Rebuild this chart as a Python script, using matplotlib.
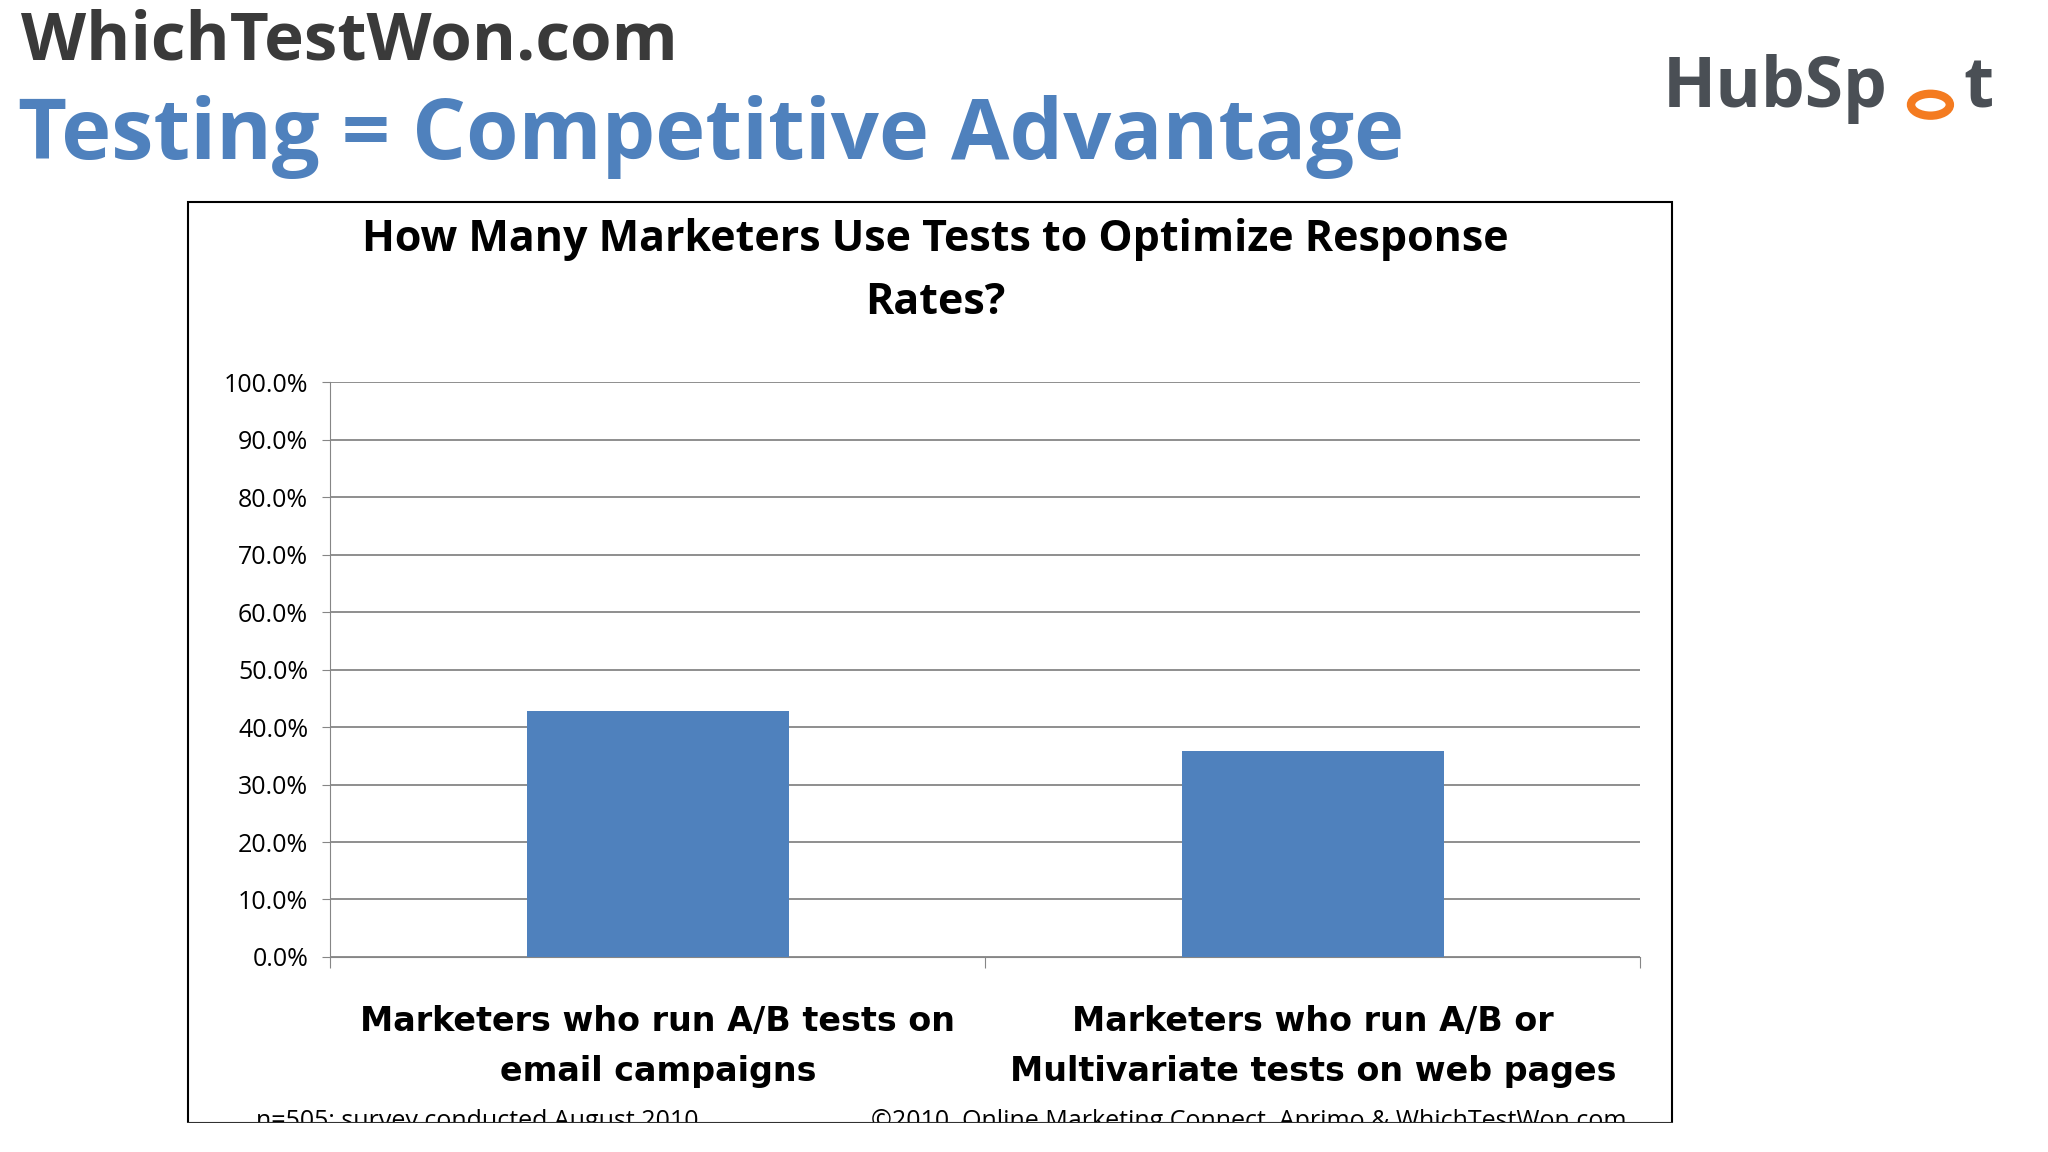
import matplotlib.pyplot as plt
from matplotlib.patches import Rectangle, Circle
from matplotlib.ticker import PercentFormatter

categories = ["Marketers who run A/B tests on\nemail campaigns",
              "Marketers who run A/B or\nMultivariate tests on web pages"]
values = [42.8, 35.8]
yticks = [0, 10, 20, 30, 40, 50, 60, 70, 80, 90, 100]

W, H = 1568, 880
fig = plt.figure(figsize=(20.48, 11.52), dpi=100)
fig.patch.set_facecolor("white")

def fx(x):
    return x / W

def fy(y):
    return 1 - y / H

# slide heading
fig.text(fx(16), fy(32), "WhichTestWon.com", fontsize=48.5, fontweight="bold",
         color="#3a3a3a", family="Open Sans", va="center")
fig.text(fx(14), fy(105), "Testing = Competitive Advantage", fontsize=61,
         fontweight="bold", color="#4f81bd", family="Open Sans", va="center")

# HubSpot logo approximation
fig.text(fx(1273), fy(68), "HubSp", fontsize=50, fontweight="bold",
         color="#4a4f55", family="Open Sans", va="center")
fig.text(fx(1503), fy(68), "t", fontsize=50, fontweight="bold",
         color="#4a4f55", family="Open Sans", va="center")
fig.patches.append(Circle((fx(1478), fy(80)), 0.0095, transform=fig.transFigure,
                          fill=False, lw=6, ec="#f47b20"))

# chart frame
fig.patches.append(Rectangle((fx(144), fy(858)), fx(1280) - fx(144), fy(154) - fy(858),
                             transform=fig.transFigure, fill=False, ec="black", lw=1.5))

fig.text(fx(716), fy(183), "How Many Marketers Use Tests to Optimize Response",
         fontsize=31, fontweight="bold", family="Open Sans", ha="center", va="center")
fig.text(fx(716), fy(231), "Rates?", fontsize=31, fontweight="bold",
         family="Open Sans", ha="center", va="center")

ax = fig.add_axes([fx(253), fy(731), fx(1256) - fx(253), fy(292) - fy(731)])
x = list(range(len(categories)))
ax.bar(x, values, width=0.4, color="#4f81bd", zorder=3)
ax.set_xlim(-0.5, 1.5)
ax.set_ylim(0, 100)
ax.set_yticks(yticks)
ax.yaxis.set_major_formatter(PercentFormatter(decimals=1))
ax.grid(axis="y", color="#868686", lw=1.3, zorder=0)
for s in ["top", "right"]:
    ax.spines[s].set_visible(False)
ax.spines["left"].set_color("#868686")
ax.spines["bottom"].set_color("#868686")
ax.tick_params(axis="y", labelsize=18, length=6, color="#868686", pad=10)
for lbl in ax.get_yticklabels():
    lbl.set_family("Open Sans")
ax.set_xticks([-0.5, 0.5, 1.5], minor=False)
ax.set_xticklabels([])
ax.tick_params(axis="x", length=8, color="#868686")
for xi, c in zip(x, categories):
    ax.text(xi, -8.3, c, ha="center", va="top", fontsize=24, fontweight="bold",
            family="DejaVu Sans", linespacing=1.65, transform=ax.transData, clip_on=False)

fig.text(fx(196), fy(866), "n=505; survey conducted August 2010", fontsize=18,
         family="Open Sans", va="bottom")
fig.text(fx(667), fy(866), "\u00a92010, Online Marketing Connect, Aprimo & WhichTestWon.com",
         fontsize=18, family="Open Sans", va="bottom")
# mask below frame to clip footer
fig.patches.append(Rectangle((0, 0), 1, fy(858), transform=fig.transFigure,
                             color="white", zorder=10))

fig.savefig("out.png", dpi=100)
